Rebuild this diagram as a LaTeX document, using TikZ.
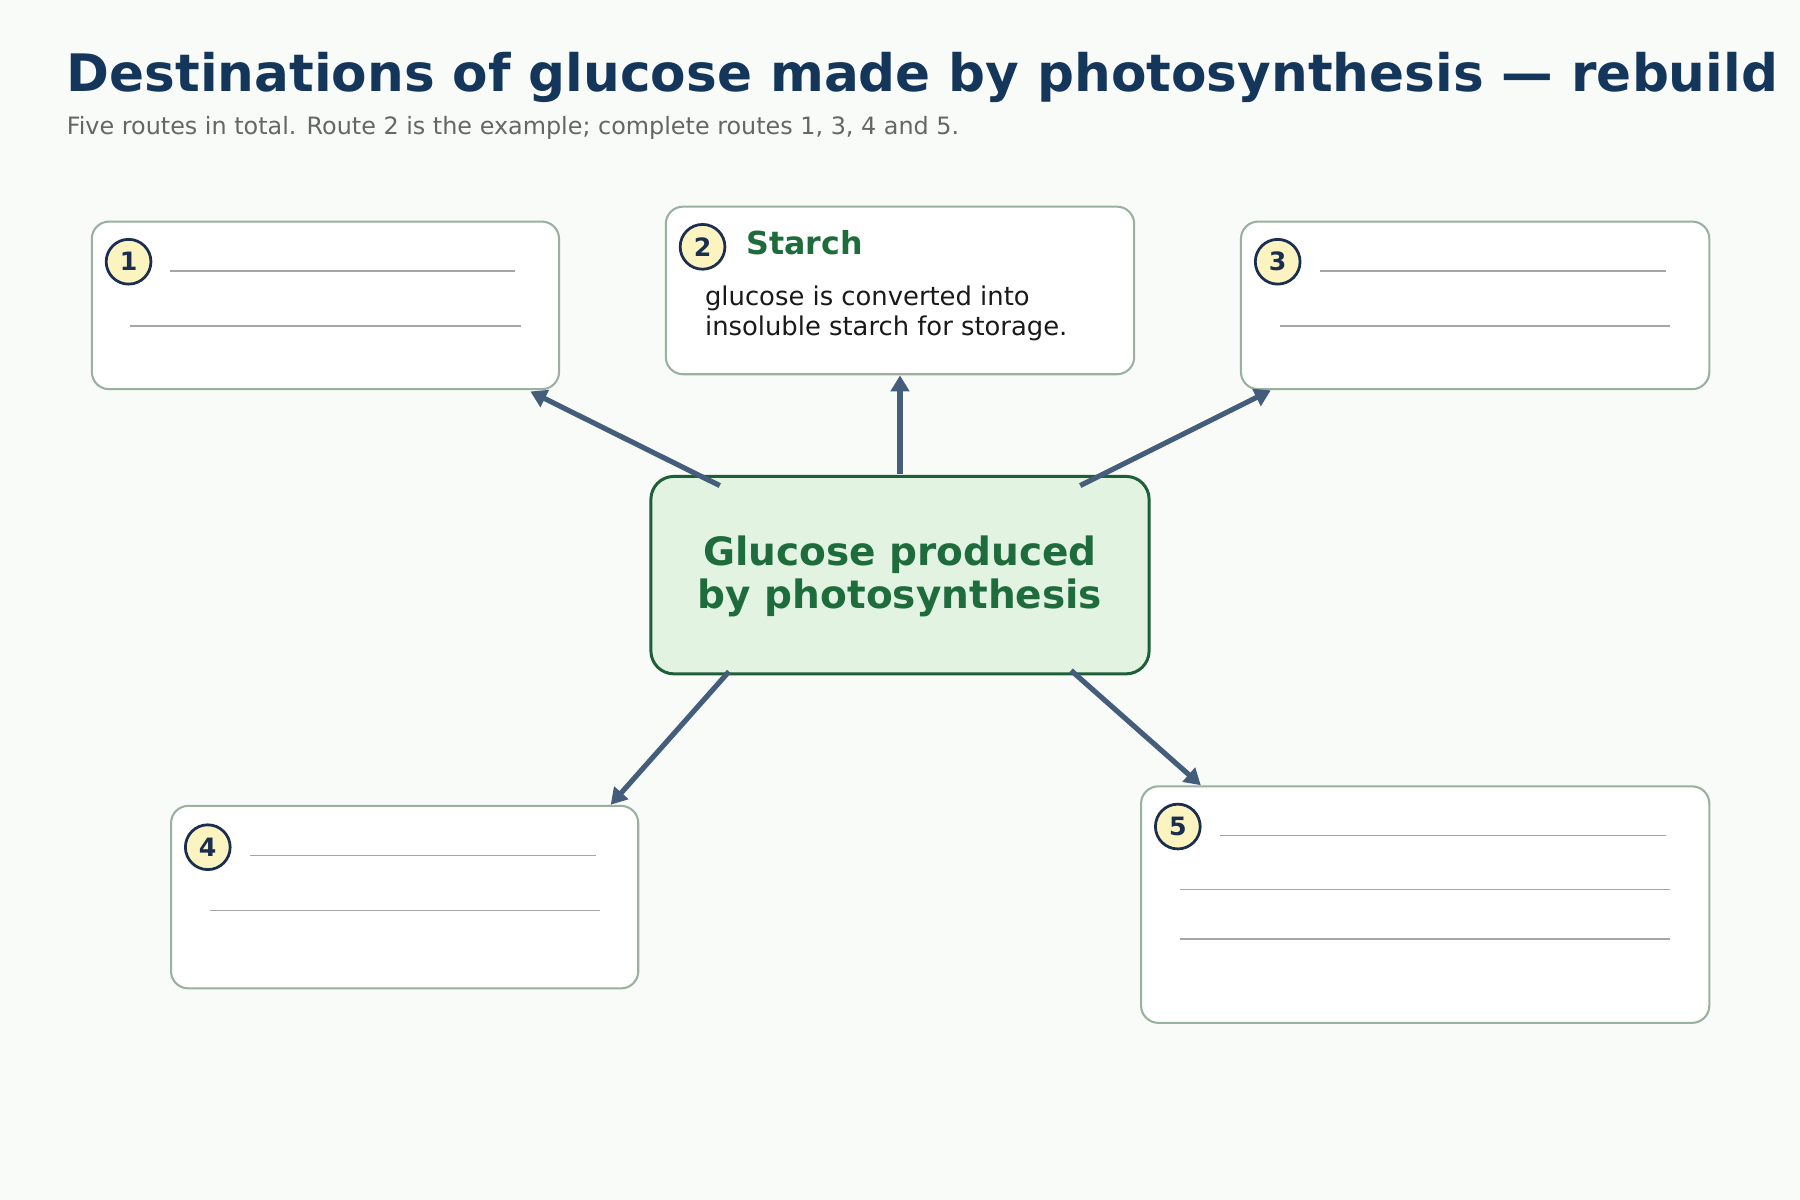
\documentclass[tikz,border=0pt]{standalone}
\usepackage{fontspec}
\setmainfont{DejaVu Sans}
\usetikzlibrary{arrows.meta}
\definecolor{bg}{HTML}{F9FBF8}
\definecolor{ttl}{HTML}{14365A}
\definecolor{bord}{HTML}{9AB0A0}
\definecolor{gfill}{HTML}{E2F3E2}
\definecolor{gdark}{HTML}{1E5E38}
\definecolor{gtext}{HTML}{1E6B3C}
\definecolor{cfill}{HTML}{FBF3C0}
\definecolor{cbord}{HTML}{1A2E4F}
\definecolor{arr}{HTML}{445D7A}
\tikzset{
 box/.style={draw=bord,line width=1.8pt,fill=white,rounded corners=15pt},
 num/.style={circle,draw=cbord,line width=2.4pt,fill=cfill,minimum size=39pt,inner sep=0pt,font=\fontsize{22}{24}\selectfont\bfseries,text=cbord},
 wl/.style={draw=gray!70,line width=1.2pt},
 ar/.style={draw=arr,line width=4.5pt,-{Triangle[length=14pt,width=16pt]}}
}
\begin{document}
\begin{tikzpicture}[x=1pt,y=-1pt]
\useasboundingbox (0,0) rectangle (1568,1045);
\fill[bg] (0,0) rectangle (1568,1045);
\begin{scope}
\clip (0,0) rectangle (1568,1045);
\node[anchor=base west,inner sep=0,text=ttl,font=\fontsize{45}{50}\selectfont\bfseries] (title) at (58,80) {Destinations of glucose made by photosynthesis — rebuild};
\end{scope}
\node[anchor=base west,inner sep=0,text=black!60,font=\fontsize{20.8}{24}\selectfont] (sub) at (58,117) {Five routes in total. Route 2 is the example; complete routes 1, 3, 4 and 5.};
% boxes
\draw[box] (80,193) rectangle (487,339);
\draw[box] (580,180) rectangle (988,326);
\draw[box] (1081,193) rectangle (1489,339);
\draw[box] (149,702) rectangle (556,861);
\draw[box] (994,685) rectangle (1489,891);
\draw[draw=gdark,line width=2.6pt,fill=gfill,rounded corners=20pt] (567,415) rectangle (1001,587);
\node[align=center,text=gtext,font=\fontsize{34}{38}\selectfont\bfseries] (glc) at (784,502) {Glucose produced\\by photosynthesis};
% numbers
\node[num] (n1) at (112,228) {1};
\node[num] (n2) at (612,215) {2};
\node[num] (n3) at (1113,228) {3};
\node[num] (n4) at (181,738) {4};
\node[num] (n5) at (1026,720) {5};
\node[anchor=base west,inner sep=0,text=gtext,font=\fontsize{27.6}{30}\selectfont\bfseries] (st) at (650,222) {Starch};
\node[anchor=base west,inner sep=0,text=black!90,font=\fontsize{22.5}{26}\selectfont] (stt) at (614,266) {glucose is converted into};
\node[anchor=base west,inner sep=0,text=black!90,font=\fontsize{22.5}{26}\selectfont] (stt2) at (614,292) {insoluble starch for storage.};
% write lines
\draw[wl] (148,236) -- (449,236); \draw[wl] (113,284) -- (454,284);
\draw[wl] (1150,236) -- (1451,236); \draw[wl] (1115,284) -- (1455,284);
\draw[wl] (218,745) -- (519,745); \draw[wl] (183,793) -- (523,793);
\draw[wl] (1063,728) -- (1451,728); \draw[wl] (1028,775) -- (1455,775); \draw[wl] (1028,818) -- (1455,818);
% arrows
\coordinate (a1s) at (627,423); \coordinate (a1e) at (462,341);
\coordinate (a2s) at (784,413); \coordinate (a2e) at (784,327);
\coordinate (a3s) at (941,423); \coordinate (a3e) at (1107,340);
\coordinate (a4s) at (635,585); \coordinate (a4e) at (532,701);
\coordinate (a5s) at (933,584); \coordinate (a5e) at (1046,684);
\draw[ar] (a1s) -- (a1e);
\draw[ar] (a2s) -- (a2e);
\draw[ar] (a3s) -- (a3e);
\draw[ar] (a4s) -- (a4e);
\draw[ar] (a5s) -- (a5e);
\end{tikzpicture}
\end{document}
